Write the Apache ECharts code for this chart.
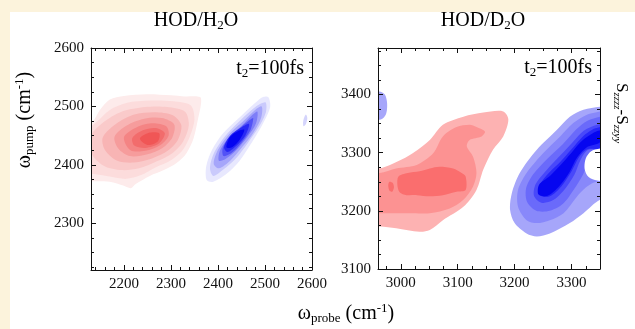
<!DOCTYPE html>
<html><head><meta charset="utf-8">
<script src="https://cdn.jsdelivr.net/npm/echarts@6/dist/echarts.min.js"></script>
<style>html,body{margin:0;padding:0;background:#fff}#c{width:635px;height:329px}</style>
</head><body><div id="c"></div><script>
// ---- axis ranges and tick labels ----
const leftXRange = [2130, 2600];
const leftYRange = [2220, 2600];
const rightXRange = [2960, 3350];
const rightYRange = [3100, 3480];
const leftXTicks = [2200, 2300, 2400, 2500, 2600];
const leftYTicks = [2300, 2400, 2500, 2600];
const rightXTicks = [3000, 3100, 3200, 3300];
const rightYTicks = [3100, 3200, 3300, 3400];

// ---- HOD/H2O contour levels (probe, pump) outer -> inner ----
const h2oRed = [
  [[2100,2440],[2130,2468],[2150,2495],[2170,2512],[2200,2518],[2250,2521],[2300,2519],[2330,2517],[2362,2516],[2364,2505],[2358,2480],[2348,2445],[2333,2420],[2312,2403],[2285,2391],[2255,2381],[2225,2367],[2215,2360],[2200,2364],[2170,2371],[2130,2372],[2100,2372]],
  [[2100,2445],[2140,2472],[2170,2494],[2205,2506],[2255,2510],[2305,2509],[2342,2502],[2350,2478],[2340,2448],[2324,2424],[2300,2408],[2268,2396],[2235,2382],[2205,2376],[2170,2380],[2140,2384],[2100,2386]],
  [[2125,2445],[2155,2472],[2195,2491],[2245,2499],[2292,2499],[2330,2491],[2338,2468],[2326,2440],[2303,2420],[2270,2406],[2232,2394],[2195,2391],[2158,2398],[2130,2420]],
  [[2155,2447],[2183,2470],[2222,2486],[2265,2490],[2304,2485],[2322,2468],[2315,2443],[2293,2424],[2260,2411],[2222,2404],[2186,2407],[2160,2425]],
  [[2180,2448],[2205,2467],[2243,2479],[2281,2480],[2307,2469],[2303,2447],[2282,2429],[2250,2418],[2213,2415],[2188,2428]],
  [[2200,2447],[2224,2463],[2258,2471],[2290,2466],[2295,2450],[2276,2433],[2246,2424],[2214,2425]],
  [[2218,2446],[2240,2459],[2268,2463],[2287,2454],[2275,2437],[2246,2429],[2222,2433]],
  [[2234,2445],[2253,2455],[2275,2454],[2272,2440],[2250,2434]]
];
const h2oBlue = [
  [[2507,2516],[2511,2499],[2496,2471],[2475,2442],[2447,2408],[2419,2385],[2390,2371],[2376,2374],[2375,2397],[2387,2425],[2411,2454],[2447,2482],[2482,2508],[2496,2516]],
  [[2501,2507],[2502,2490],[2487,2465],[2464,2438],[2438,2411],[2410,2391],[2390,2381],[2383,2395],[2392,2421],[2415,2449],[2450,2478],[2483,2501]],
  [[2493,2500],[2492,2481],[2476,2456],[2452,2431],[2426,2407],[2402,2394],[2391,2402],[2399,2424],[2421,2450],[2453,2474],[2479,2494]],
  [[2484,2491],[2481,2471],[2463,2448],[2440,2426],[2416,2410],[2402,2407],[2404,2424],[2423,2447],[2452,2468],[2474,2486]],
  [[2475,2480],[2469,2459],[2450,2438],[2430,2421],[2412,2415],[2410,2428],[2425,2448],[2450,2465],[2468,2477]],
  [[2466,2470],[2458,2450],[2438,2432],[2420,2422],[2413,2430],[2426,2450],[2448,2463]],
  [[2456,2460],[2447,2444],[2430,2430],[2418,2430],[2426,2448],[2443,2458]]
];
const h2oBlueSpot = [[2582,2466],[2587,2470],[2590,2480],[2587,2486],[2583,2480],[2581,2472]];

// ---- HOD/D2O contour levels ----
const d2oRed = [
  [[2940,3273],[2962,3273],[2981,3279],[3016,3296],[3051,3322],[3074,3348],[3110,3362],[3145,3369],[3180,3371],[3189,3357],[3180,3328],[3162,3305],[3145,3271],[3133,3236],[3110,3207],[3074,3184],[3051,3167],[3033,3164],[2992,3170],[2963,3173],[2940,3173]],
  [[2940,3265],[2963,3265],[2992,3273],[3028,3279],[3057,3299],[3074,3328],[3098,3344],[3121,3348],[3133,3344],[3148,3336],[3142,3328],[3121,3322],[3116,3311],[3127,3293],[3133,3265],[3127,3242],[3110,3219],[3086,3204],[3051,3196],[3022,3196],[2992,3196],[2963,3196],[2940,3196]],
  [[2996,3259],[3012,3265],[3033,3268],[3051,3273],[3068,3276],[3092,3273],[3107,3265],[3114,3259],[3114,3236],[3098,3233],[3074,3227],[3051,3225],[3028,3227],[3010,3227],[2998,3232],[2994,3245]]
];
const d2oRedSpot = [[2980,3250],[2986,3248],[2988,3240],[2985,3233],[2980,3235],[2978,3244]];
const d2oBlue = [
  [[3370,3382],[3350,3379],[3321,3374],[3297,3362],[3274,3339],[3239,3305],[3209,3265],[3195,3230],[3192,3202],[3200,3179],[3221,3161],[3239,3156],[3262,3161],[3297,3179],[3321,3196],[3350,3219],[3370,3219]],
  [[3370,3373],[3350,3371],[3326,3365],[3303,3351],[3280,3328],[3250,3299],[3221,3265],[3206,3236],[3206,3207],[3221,3184],[3239,3179],[3262,3184],[3286,3196],[3309,3224],[3326,3241],[3344,3250],[3370,3250]],
  [[3370,3365],[3350,3362],[3328,3355],[3308,3340],[3285,3315],[3258,3290],[3232,3262],[3220,3238],[3222,3215],[3238,3200],[3262,3200],[3285,3212],[3305,3238],[3320,3262],[3332,3290],[3350,3300],[3370,3300]],
  [[3370,3350],[3345,3348],[3322,3338],[3302,3318],[3280,3295],[3256,3270],[3237,3246],[3234,3226],[3247,3214],[3267,3218],[3287,3236],[3305,3262],[3316,3288],[3330,3305],[3370,3305]],
  [[3370,3344],[3342,3342],[3320,3328],[3300,3306],[3280,3284],[3258,3263],[3243,3242],[3246,3226],[3262,3225],[3282,3242],[3300,3268],[3313,3292],[3328,3306],[3370,3306]],
  [[3350,3338],[3320,3322],[3300,3300],[3280,3278],[3262,3260],[3243,3245],[3242,3228],[3258,3226],[3278,3242],[3296,3266],[3310,3292],[3328,3310],[3350,3318]]
];
const d2oBlueHole = [[3372,3308],[3350,3307],[3334,3302],[3325,3290],[3323,3272],[3330,3258],[3345,3252],[3372,3252]];
const d2oBlueSpot = [[2940,3405],[2962,3405],[2972,3400],[2976,3385],[2974,3366],[2965,3357],[2940,3357]];

// ---- styles ----
const h2oRedColors = ['#FDEBEB','#FCDCDC','#FACACA','#F8B4B4','#F69C9C','#F48484','#F26C6C','#F05656'];
const h2oBlueColors = ['#E8E8FE','#CACAFC','#A6A6FA','#7E7EF8','#5252F6','#2828F4','#0505F0'];
const d2oRedColors = ['#FDB2B2','#FC9292','#FA6E6E'];
const d2oBlueColors = ['#A6A6FA','#8888FA','#6A6AFA','#4848FA','#2626F8','#0606F0'];
const FONT = "'Liberation Serif','DejaVu Serif',serif";

function layers(groups) {
  const out = [];
  groups.forEach(g => g.polys.forEach((p, i) => out.push({ pts: p, color: g.colors[Math.min(i, g.colors.length - 1)] })));
  return out;
}
const leftLayers = layers([
  { polys: h2oRed, colors: h2oRedColors },
  { polys: h2oBlue, colors: h2oBlueColors },
  { polys: [h2oBlueSpot], colors: ['#D4D4FC'] }
]);
const rightLayers = layers([
  { polys: d2oRed, colors: d2oRedColors },
  { polys: [d2oRedSpot], colors: [d2oRedColors[2]] },
  { polys: d2oBlue, colors: d2oBlueColors },
  { polys: [d2oBlueHole], colors: ['#FFFFFF'] },
  { polys: [d2oBlueSpot], colors: [d2oBlueColors[0]] }
]);

function contourSeries(axisIdx, lay) {
  return {
    type: 'custom', xAxisIndex: axisIdx, yAxisIndex: axisIdx, clip: true, silent: true,
    data: lay.map((l, i) => [l.pts[0][0], l.pts[0][1], i]),
    encode: { x: 0, y: 1 },
    renderItem: function (params, api) {
      const l = lay[api.value(2)];
      return { type: 'polygon', shape: { points: l.pts.map(p => api.coord(p)), smooth: 0.3 },
               style: { fill: l.color, stroke: null } };
    }
  };
}

function range(a, b, s, skip) { const r = []; for (let v = a; v <= b + 1e-9; v += s) { if (skip.indexOf(v) < 0) r.push(v); } return r; }

function axes(kind, gi, rng, majors, minors) {
  const pos = kind === 'x' ? ['bottom', 'top'] : ['left', 'right'];
  const list = [];
  pos.forEach((p, k) => {
    list.push({
      type: 'value', gridIndex: gi, position: p, min: rng[0], max: rng[1], z: 10,
      axisLine: { show: true, onZero: false, lineStyle: { color: '#111', width: 1 } },
      axisTick: { show: true, inside: true, length: 5, customValues: majors, lineStyle: { color: '#111', width: 1 } },
      axisLabel: { show: k === 0, customValues: majors, formatter: v => String(v), fontFamily: FONT, fontSize: 15, color: '#111', margin: 7 },
      splitLine: { show: false }
    });
    list.push({
      type: 'value', gridIndex: gi, position: p, min: rng[0], max: rng[1], z: 10,
      axisLine: { show: false, onZero: false },
      axisTick: { show: true, inside: true, length: 3, customValues: minors, lineStyle: { color: '#111', width: 1 } },
      axisLabel: { show: false },
      splitLine: { show: false }
    });
  });
  return list;
}

const xAxes = [].concat(
  axes('x', 0, leftXRange, leftXTicks, range(2140, 2600, 20, leftXTicks)),
  axes('x', 1, rightXRange, rightXTicks, range(2975, 3350, 25, rightXTicks))
);
const yAxes = [].concat(
  axes('y', 0, leftYRange, leftYTicks, range(2225, 2600, 25, leftYTicks)),
  axes('y', 1, rightYRange, rightYTicks, range(3125, 3475, 25, rightYTicks))
);

const rich = {
  n: { fontFamily: FONT, fontSize: 20, color: '#111' },
  s: { fontFamily: FONT, fontSize: 13, color: '#111', padding: [10, 0, 0, 0] },
  p: { fontFamily: FONT, fontSize: 13, color: '#111', padding: [0, 0, 10, 0] },
  t: { fontFamily: FONT, fontSize: 20, color: '#111' },
  ts: { fontFamily: FONT, fontSize: 13, color: '#111', padding: [9, 0, 0, 0] },
  S: { fontFamily: FONT, fontSize: 17, color: '#111' },
  si: { fontFamily: FONT, fontSize: 11, fontStyle: 'italic', color: '#111', padding: [8, 0, 0, 0] }
};
function txt(x, y, text, align, rot) {
  return { type: 'text', x: x, y: y, rotation: rot || 0, z: 100,
    style: { text: text, rich: rich, align: align || 'center', verticalAlign: 'middle' } };
}

const option = {
  animation: false,
  backgroundColor: '#FCF3DC',
  grid: [
    { left: 91, top: 48, width: 221, height: 222 },
    { left: 378, top: 48, width: 222, height: 221 }
  ],
  xAxis: xAxes,
  yAxis: yAxes,
  graphic: [
    { type: 'rect', shape: { x: 10, y: 12, width: 640, height: 330 }, style: { fill: '#FFFFFF' }, z: -10, silent: true },
    txt(196, 21, '{n|HOD/H}{s|2}{n|O}'),
    txt(483, 21, '{n|HOD/D}{s|2}{n|O}'),
    txt(304, 69, '{t|t}{ts|2}{t|=100fs}', 'right'),
    txt(592, 68, '{t|t}{ts|2}{t|=100fs}', 'right'),
    txt(346, 314, '{n|\u03c9}{s|probe}{n| (cm}{p|-1}{n|)}'),
    txt(25, 120, '{n|\u03c9}{s|pump}{n| (cm}{p|-1}{n|)}', 'center', Math.PI / 2),
    txt(621, 113, '{S|S}{si|zzzz}{S|-S}{si|zzyy}', 'center', -Math.PI / 2)
  ],
  series: [contourSeries(0, leftLayers), contourSeries(4, rightLayers)]
};
const chart = echarts.init(document.getElementById('c'), null, { renderer: 'canvas' });
chart.setOption(option);
</script></body></html>
